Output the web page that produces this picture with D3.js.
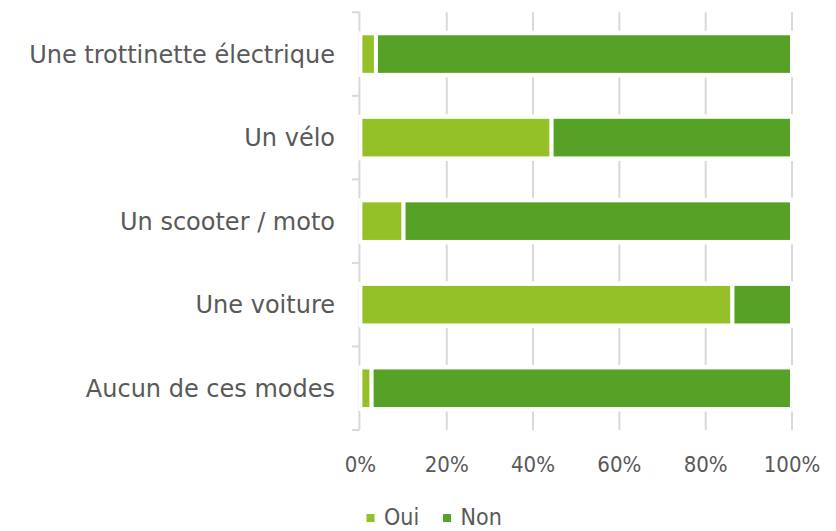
<!DOCTYPE html>
<html>
<head>
<meta charset="utf-8">
<script src="https://cdn.jsdelivr.net/npm/d3@7"></script>
<style>
  body { margin: 0; background: #fff; }
  svg text { font-family: "DejaVu Sans Condensed", "DejaVu Sans", sans-serif; fill: #595959; }
  svg text.cat { font-family: "DejaVu Sans", sans-serif; }
</style>
</head>
<body>
<svg id="chart" width="836" height="531"></svg>
<script>
// values (percent)
const categories = ["Une trottinette électrique", "Un vélo", "Un scooter / moto", "Une voiture", "Aucun de ces modes"];
const oui = [3.6, 44.3, 10.0, 86.2, 2.6];
const non = [96.4, 55.7, 90.0, 13.8, 97.4];
const seriesNames = ["Oui", "Non"];
const colors = ["#93c127", "#55a226"];
const xTicks = [0, 20, 40, 60, 80, 100];

let svg = d3.select("#chart");

let x = d3.scaleLinear().domain([0, 100]).range([360.4, 792]);
let y = d3.scaleBand().domain(categories).range([12.3, 430]).paddingInner(0.55).paddingOuter(0.275);

let gridColor = "#d9d9d9";
let gap = 4.5;

// vertical gridlines, broken around the bars
let stops = [y.range()[0]];
categories.forEach(c => { stops.push(y(c) - gap); stops.push(y(c) + y.bandwidth() + gap); });
stops.push(y.range()[1]);
xTicks.slice(1).forEach(t => {
    for (let i = 0; i < stops.length; i += 2) {
        svg.append("line")
            .attr("x1", x(t)).attr("x2", x(t))
            .attr("y1", stops[i]).attr("y2", stops[i + 1])
            .attr("stroke", gridColor).attr("stroke-width", 2);
    }
});

// category axis with ticks between bands
let step = y.step();
let boundaries = d3.range(categories.length + 1).map(i => y.range()[0] + i * step);
svg.append("line")
    .attr("x1", x(0) - 1).attr("x2", x(0) - 1)
    .attr("y1", boundaries[0]).attr("y2", boundaries[boundaries.length - 1])
    .attr("stroke", gridColor).attr("stroke-width", 2);
boundaries.forEach(b => {
    svg.append("line")
        .attr("x1", x(0) - 8.5).attr("x2", x(0) - 1)
        .attr("y1", b).attr("y2", b)
        .attr("stroke", gridColor).attr("stroke-width", 2);
});

// stacked bars
let rows = categories.map((c, i) => ({ cat: c, Oui: oui[i], Non: non[i] }));
let stack = d3.stack().keys(seriesNames)(rows);
stack.forEach((layer, k) => {
    svg.append("g").selectAll("rect")
        .data(layer)
        .join("rect")
        .attr("x", d => x(d[0]))
        .attr("y", d => y(d.data.cat) - 2)
        .attr("width", d => x(d[1]) - x(d[0]))
        .attr("height", y.bandwidth() + 4)
        .attr("fill", colors[k])
        .attr("stroke", "#fff")
        .attr("stroke-width", 4);
});

// category labels
svg.append("g").selectAll("text")
    .data(categories)
    .join("text")
    .attr("class", "cat")
    .attr("x", 335)
    .attr("y", d => y(d) + y.bandwidth() / 2)
    .attr("dy", "0.36em")
    .attr("text-anchor", "end")
    .attr("font-size", "24px")
    .text(d => d);

// percent labels
svg.append("g").selectAll("text")
    .data(xTicks)
    .join("text")
    .attr("x", d => x(d))
    .attr("y", 472)
    .attr("text-anchor", "middle")
    .attr("font-size", "22px")
    .text(d => d + "%");

// legend
let legendX = [366.5, 443];
seriesNames.forEach((s, i) => {
    svg.append("rect")
        .attr("x", legendX[i]).attr("y", 514)
        .attr("width", 8).attr("height", 8)
        .attr("fill", colors[i]);
    svg.append("text")
        .attr("x", legendX[i] + 17.5)
        .attr("y", 525)
        .attr("font-size", "23px")
        .text(s);
});
</script>
</body>
</html>
